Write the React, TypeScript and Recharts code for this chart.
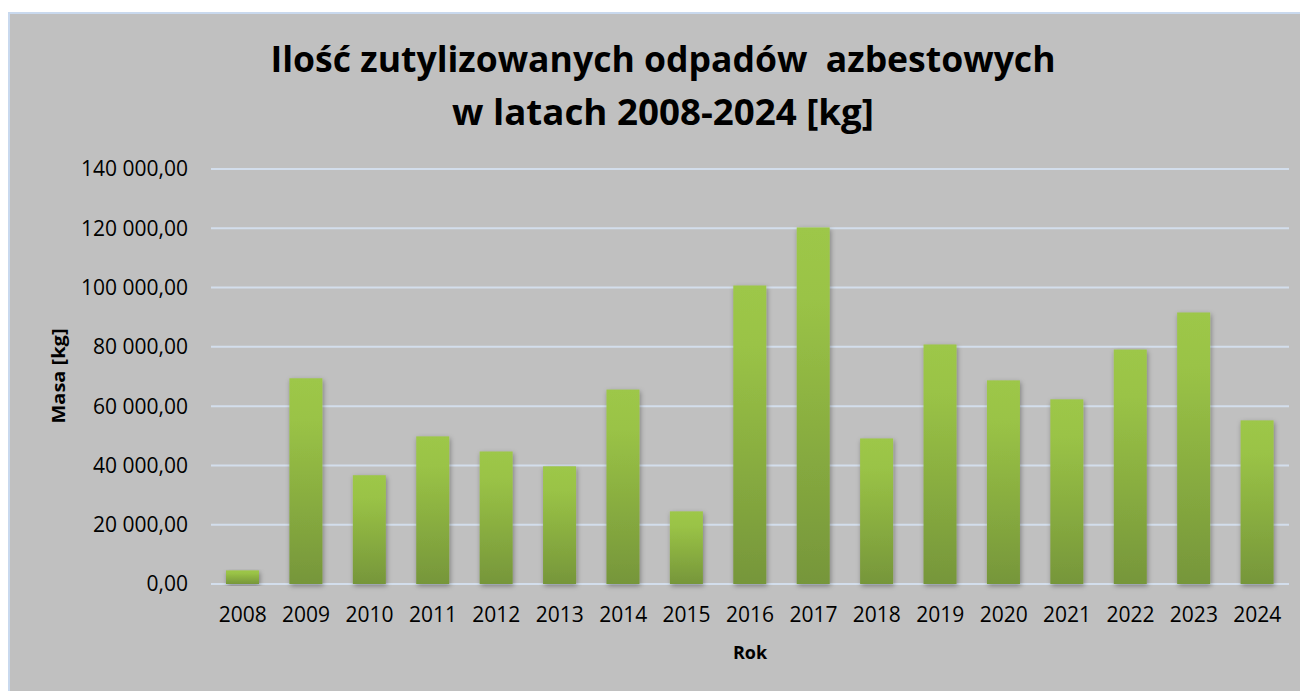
import React from 'react';
import { BarChart, Bar, XAxis, YAxis, CartesianGrid } from 'recharts';

const years = ['2008','2009','2010','2011','2012','2013','2014','2015','2016','2017','2018','2019','2020','2021','2022','2023','2024'];
const masses = [4600, 69400, 36700, 49800, 44700, 39700, 65600, 24500, 100700, 120300, 49100, 80800, 68700, 62300, 79100, 91600, 55200];
const yTicks = [0, 20000, 40000, 60000, 80000, 100000, 120000, 140000];
const titleLine1 = 'Ilość zutylizowanych odpadów  azbestowych';
const titleLine2 = 'w latach 2008-2024 [kg]';
const yAxisTitle = 'Masa [kg]';
const xAxisTitle = 'Rok';

const data = years.map((y, i) => ({ year: y, value: masses[i] }));

const FONT = '"Open Sans", "Noto Sans", sans-serif';

function formatPl(v: number): string {
  const s = Math.round(v).toString();
  const parts: string[] = [];
  for (let i = s.length; i > 0; i -= 3) {
    parts.unshift(s.substring(Math.max(0, i - 3), i));
  }
  return parts.join(' ') + ',00';
}

const BarShape = (props: any) => {
  const { x, y, width, height } = props;
  if (!height || height <= 0) return null;
  return (
    <rect x={x} y={y} width={width} height={height} fill="url(#barGrad)" filter="url(#barShadow)" />
  );
};

export default function App() {
  return (
    <div
      style={{
        position: 'relative',
        width: 1300,
        height: 679,
        marginTop: 4,
        background: '#c0c0c0',
        borderLeft: '2px solid #c9d9ee',
        borderTop: '2px solid #c9d9ee',
        boxSizing: 'border-box',
        overflow: 'hidden',
      }}
    >
      <div style={{ position: 'absolute', left: -2, top: -2 }}>
        <BarChart
          width={1300}
          height={679}
          data={data}
          margin={{ top: 157, right: 19, bottom: 77, left: 53 }}
        >
          <defs>
            <linearGradient id="barGrad" x1="0" y1="0" x2="0" y2="1">
              <stop offset="0%" stopColor="#9dc748" />
              <stop offset="20%" stopColor="#9ac346" />
              <stop offset="100%" stopColor="#76963a" />
            </linearGradient>
            <filter id="barShadow" x="-40%" y="-10%" width="180%" height="120%">
              <feDropShadow dx="1" dy="2" stdDeviation="2.5" floodColor="#000" floodOpacity="0.35" />
            </filter>
          </defs>
          <CartesianGrid horizontal vertical={false} stroke="#d3deec" strokeWidth={2} />
          <XAxis
            dataKey="year"
            axisLine={false}
            tickLine={false}
            tickSize={0}
            tickMargin={23}
            interval={0}
            tick={{ fontSize: 21, fill: '#000', fontFamily: FONT }}
          />
          <YAxis
            width={150}
            domain={[0, 140000]}
            ticks={yTicks}
            axisLine={false}
            tickLine={false}
            tickSize={0}
            tickMargin={23}
            tickFormatter={formatPl}
            tick={{ fontSize: 21, fill: '#000', fontFamily: FONT }}
          />
          <Bar dataKey="value" barSize={33} isAnimationActive={false} shape={BarShape} />
        </BarChart>
      </div>
      <svg
        width={1300}
        height={679}
        style={{ position: 'absolute', left: -2, top: -2, pointerEvents: 'none' }}
      >
        <text
          x={655}
          y={60}
          textAnchor="middle"
          fontFamily={FONT}
          fontWeight={700}
          fontSize={36}
          fill="#000"
          textLength={785}
          lengthAdjust="spacingAndGlyphs"
          style={{ whiteSpace: 'pre' }}
        >
          {titleLine1}
        </text>
        <text
          x={655}
          y={113}
          textAnchor="middle"
          fontFamily={FONT}
          fontWeight={700}
          fontSize={36}
          fill="#000"
          textLength={422}
          lengthAdjust="spacingAndGlyphs"
        >
          {titleLine2}
        </text>
        <text
          x={0}
          y={0}
          transform="translate(57 364) rotate(-90)"
          textAnchor="middle"
          fontFamily={FONT}
          fontWeight={700}
          fontSize={18}
          fill="#000"
          textLength={95}
          lengthAdjust="spacingAndGlyphs"
        >
          {yAxisTitle}
        </text>
        <text
          x={742}
          y={647}
          textAnchor="middle"
          fontFamily={FONT}
          fontWeight={700}
          fontSize={18}
          fill="#000"
        >
          {xAxisTitle}
        </text>
      </svg>
    </div>
  );
}
